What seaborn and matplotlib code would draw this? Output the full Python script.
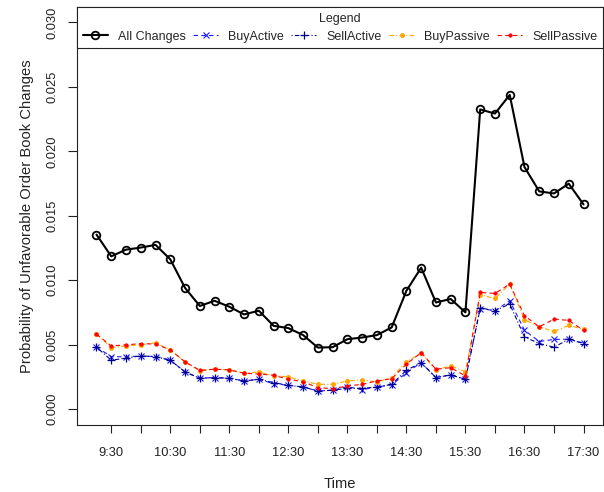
import numpy as np
import pandas as pd
import seaborn as sns
import matplotlib
matplotlib.use("Agg")
import matplotlib.pyplot as plt

# 15-minute intervals over the trading day
times = ["9:15", "9:30", "9:45", "10:00", "10:15", "10:30", "10:45", "11:00", "11:15",
         "11:30", "11:45", "12:00", "12:15", "12:30", "12:45", "13:00", "13:15", "13:30",
         "13:45", "14:00", "14:15", "14:30", "14:45", "15:00", "15:15", "15:30", "15:45",
         "16:00", "16:15", "16:30", "16:45", "17:00", "17:15", "17:30"]

all_changes = [0.01354, 0.01185, 0.01237, 0.01253, 0.01274, 0.01162, 0.00940, 0.00800,
               0.00840, 0.00794, 0.00734, 0.00763, 0.00646, 0.00628, 0.00574, 0.00477,
               0.00480, 0.00542, 0.00555, 0.00574, 0.00633, 0.00918, 0.01097, 0.00827,
               0.00854, 0.00750, 0.02325, 0.02293, 0.02438, 0.01878, 0.01689, 0.01673,
               0.01749, 0.01588]

buy_active = [0.00480, 0.00407, 0.00405, 0.00412, 0.00407, 0.00379, 0.00288, 0.00239,
              0.00244, 0.00239, 0.00218, 0.00231, 0.00197, 0.00184, 0.00171, 0.00140,
              0.00146, 0.00174, 0.00150, 0.00171, 0.00187, 0.00282, 0.00360, 0.00244,
              0.00265, 0.00231, 0.00780, 0.00763, 0.00840, 0.00612, 0.00524, 0.00540,
              0.00542, 0.00512]

sell_active = [0.00480, 0.00379, 0.00395, 0.00412, 0.00407, 0.00379, 0.00288, 0.00239,
               0.00244, 0.00239, 0.00218, 0.00231, 0.00205, 0.00184, 0.00171, 0.00140,
               0.00146, 0.00161, 0.00160, 0.00171, 0.00192, 0.00301, 0.00360, 0.00244,
               0.00265, 0.00231, 0.00785, 0.00763, 0.00815, 0.00560, 0.00508, 0.00480,
               0.00542, 0.00508]

buy_passive = [0.00581, 0.00477, 0.00490, 0.00498, 0.00514, 0.00459, 0.00366, 0.00296,
               0.00309, 0.00304, 0.00278, 0.00288, 0.00257, 0.00251, 0.00218, 0.00192,
               0.00192, 0.00218, 0.00226, 0.00210, 0.00244, 0.00368, 0.00433, 0.00305,
               0.00335, 0.00288, 0.00887, 0.00858, 0.00970, 0.00693, 0.00638, 0.00602,
               0.00650, 0.00618]

sell_passive = [0.00581, 0.00490, 0.00498, 0.00508, 0.00504, 0.00459, 0.00366, 0.00301,
                0.00309, 0.00304, 0.00278, 0.00272, 0.00262, 0.00231, 0.00212, 0.00166,
                0.00158, 0.00179, 0.00192, 0.00218, 0.00236, 0.00348, 0.00438, 0.00309,
                0.00321, 0.00257, 0.00905, 0.00897, 0.00970, 0.00724, 0.00638, 0.00698,
                0.00688, 0.00610]

tick_times = ["9:30", "10:00", "10:30", "11:00", "11:30", "12:00", "12:30", "13:00", "13:30",
              "14:00", "14:30", "15:00", "15:30", "16:00", "16:30", "17:00", "17:30"]
label_times = ["9:30", "10:30", "11:30", "12:30", "13:30", "14:30", "15:30", "16:30", "17:30"]
y_ticks = [0.000, 0.005, 0.010, 0.015, 0.020, 0.025, 0.030]

df = pd.DataFrame({
    "pos": np.arange(len(times)),
    "All Changes": all_changes,
    "BuyActive": buy_active,
    "SellActive": sell_active,
    "BuyPassive": buy_passive,
    "SellPassive": sell_passive,
})

sns.set_theme(style="ticks")
plt.rcParams['font.family'] = ['Liberation Sans', 'DejaVu Sans']

fig = plt.figure(figsize=(6.04, 4.92), dpi=100)
ax = fig.add_axes([77 / 604, 1 - 424.5 / 492, 526 / 604, 417.5 / 492])

styles = {
    "All Changes": dict(color="black", linewidth=1.5, linestyle="-", marker="o", markersize=5.5,
                        markerfacecolor="none", markeredgecolor="black", markeredgewidth=1.3),
    "BuyActive": dict(color="#1a1aff", linewidth=0.8, linestyle=(0, (4, 3)), marker="x", markersize=4.5,
                      markeredgecolor="#1a1aff", markeredgewidth=0.8),
    "SellActive": dict(color="#00008B", linewidth=0.8, linestyle=(0, (1, 2, 4, 2)), marker="+",
                       markersize=6, markeredgecolor="#00008B", markeredgewidth=0.9),
    "BuyPassive": dict(color="orange", linewidth=0.8, linestyle=(0, (4, 2, 1, 2)), marker="o",
                       markersize=3, markeredgecolor="orange", markeredgewidth=0.5),
    "SellPassive": dict(color="red", linewidth=0.8, linestyle=(0, (4, 3)), marker="o", markersize=2.5,
                        markeredgecolor="red", markeredgewidth=0.5),
}

for name in ["All Changes", "BuyActive", "SellActive", "BuyPassive", "SellPassive"]:
    sns.lineplot(data=df, x="pos", y=name, ax=ax, label=name, **styles[name])

ax.set_xlim(-1.32, 34.32)
ax.set_ylim(-0.0012, 0.0312)

ax.set_xticks([times.index(t) for t in tick_times])
ax.set_xticklabels([t if t in label_times else "" for t in tick_times])
ax.set_yticks(y_ticks)
ax.set_yticklabels([f"{v:.3f}" for v in y_ticks], rotation=90, va="center")

ax.tick_params(axis="x", direction="out", length=6, width=0.8, pad=10, labelsize=9.3,
               colors="#222222")
ax.tick_params(axis="y", direction="out", length=6.5, width=0.8, pad=7, labelsize=9.3,
               colors="#222222")
for sp in ax.spines.values():
    sp.set_visible(True)
    sp.set_color("#222222")
    sp.set_linewidth(0.8)

ax.set_xlabel("Time", fontsize=10.6, color="#222222")
ax.set_ylabel("Probability of Unfavorable Order Book Changes", fontsize=10.6, color="#222222")
ax.xaxis.set_label_coords(0.5, -0.125)
ax.yaxis.set_label_coords(-0.082, 0.5)

leg = ax.legend(loc="upper center", bbox_to_anchor=(0, 0, 1, 1), mode="expand", ncol=5,
                title="Legend", fontsize=9, title_fontsize=9, frameon=True, fancybox=False,
                edgecolor="#222222", framealpha=1, borderaxespad=0, borderpad=0.45,
                handlelength=2.0, handletextpad=0.8, columnspacing=0.6, labelspacing=0.5)
leg.get_frame().set_linewidth(0.8)

fig.savefig("out.png", dpi=100, facecolor="white")
